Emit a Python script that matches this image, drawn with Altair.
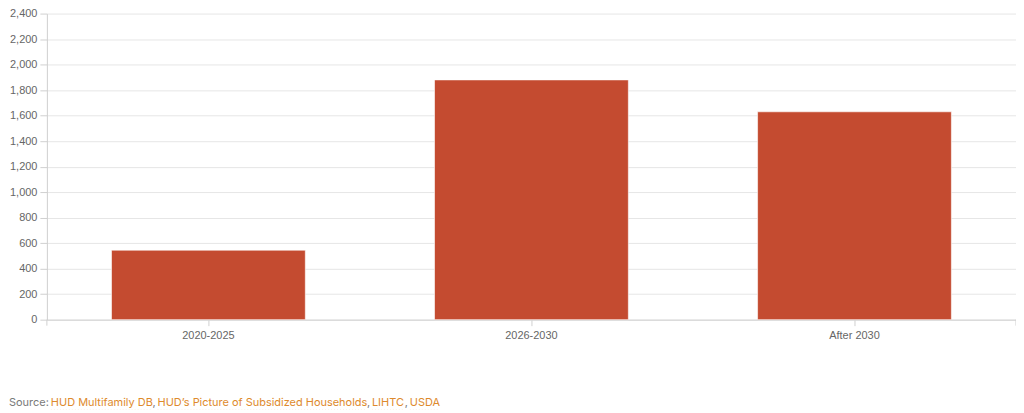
import altair as alt
import pandas as pd

categories = ["2020-2025", "2026-2030", "After 2030"]
values = [545, 1880, 1630]
y_ticks = list(range(0, 2401, 200))

source_prefix = "Source:"
source_links = ["HUD Multifamily DB", "HUD\u2019s Picture of Subsidized Households", "LIHTC", "USDA"]

BAR = "#C44B30"
GRID = "#e6e6e6"
AXIS_LINE = "#d0d0d0"
LABEL = "#666666"
LINK = "#DE8A2C"
GREYTXT = "#7a7a7a"
W, H = 972, 307

df = pd.DataFrame({"period": categories, "units": values})

bars = alt.Chart(df).mark_bar(color=BAR, stroke="#ffffff", strokeWidth=1, strokeOpacity=0.6).encode(
    x=alt.X("period:N", sort=categories, title=None,
            scale=alt.Scale(paddingInner=0.4, paddingOuter=0.2),
            axis=alt.Axis(labelAngle=0, labelColor=LABEL, labelFontSize=11, labelFont="Liberation Sans",
                          domainColor=AXIS_LINE, tickColor=AXIS_LINE, tickSize=6, labelPadding=4,
                          grid=False)),
    y=alt.Y("units:Q", title=None,
            scale=alt.Scale(domain=[0, 2400], nice=False),
            axis=alt.Axis(values=y_ticks, format=",.0f", labelColor=LABEL, labelFontSize=11,
                          labelFont="Liberation Sans", domainColor=AXIS_LINE, tickColor=AXIS_LINE,
                          tickSize=7, labelPadding=3, gridColor=GRID)),
)

one = pd.DataFrame({"a": [0]})
end_ticks = alt.Chart(one).mark_rule(color=AXIS_LINE).encode(
    x=alt.value(W), y=alt.value(H), y2=alt.value(H + 6))
left_tick = alt.Chart(one).mark_rule(color=AXIS_LINE).encode(
    x=alt.value(0), y=alt.value(H), y2=alt.value(H + 6))

TY = 404 - 13
def txt(s, xpage, color):
    return alt.Chart(one).mark_text(text=s, align="left", baseline="middle", font="Inter",
                                    fontSize=11, color=color).encode(
        x=alt.value(xpage - 47), y=alt.value(TY))

def underline(x1, x2):
    return alt.Chart(one).mark_rule(color=LINK, strokeDash=[1, 2], strokeWidth=1).encode(
        x=alt.value(x1 - 47), x2=alt.value(x2 - 47), y=alt.value(TY + 7))

layers = [bars, end_ticks, left_tick,
          txt(source_prefix, 9, GREYTXT),
          txt(source_links[0], 51, LINK), txt(",", 153, GREYTXT),
          txt(source_links[1], 158, LINK), txt(",", 368, GREYTXT),
          txt(source_links[2], 373, LINK), txt(",", 406, GREYTXT),
          txt(source_links[3], 411, LINK),
          underline(51, 152), underline(158, 367), underline(373, 405), underline(411, 440)]

chart = alt.layer(*layers).properties(
    width=W, height=H,
    autosize=alt.AutoSizeParams(type="none"),
    padding={"left": 39, "top": 5, "right": 0, "bottom": 90},
).configure_view(stroke=None)

chart.save("out.html", embed_options={"renderer": "svg", "actions": False})
